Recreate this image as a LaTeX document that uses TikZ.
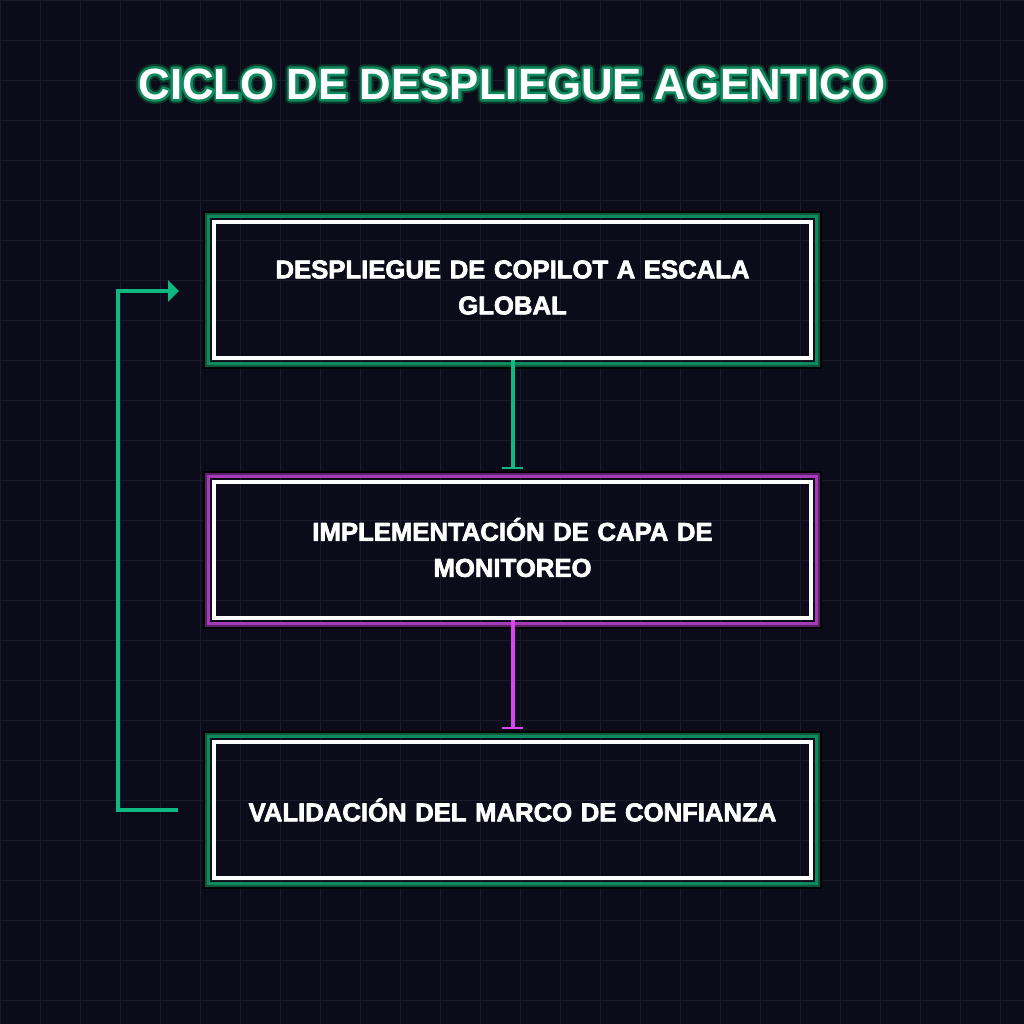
\documentclass[tikz,border=0pt]{standalone}
\usepackage{fontspec}
\setmainfont{Liberation Sans}
\usetikzlibrary{arrows.meta}
\definecolor{bgc}{HTML}{0B0B19}
\definecolor{gridc}{HTML}{1B1B2D}
\definecolor{greenc}{HTML}{10B981}
\definecolor{gband}{HTML}{0F8A5E}
\definecolor{gdark}{HTML}{0A5A3D}
\definecolor{magc}{HTML}{D946EF}
\definecolor{mband}{HTML}{A63BB8}
\definecolor{mdark}{HTML}{5E1F6A}
\definecolor{tgreen}{HTML}{0F8A5E}
\definecolor{tdark}{HTML}{0A3A2A}
\newcommand\glowframe[3]{%
  \draw[black, line width=3pt] ([shift={(-7.5pt,7.5pt)}]#1.north west) rectangle ([shift={(7.5pt,-7.5pt)}]#1.south east);
  \draw[#3, line width=2pt] ([shift={(-6pt,6pt)}]#1.north west) rectangle ([shift={(6pt,-6pt)}]#1.south east);
  \draw[#2, line width=3pt] ([shift={(-3.5pt,3.5pt)}]#1.north west) rectangle ([shift={(3.5pt,-3.5pt)}]#1.south east);
}
\newcommand\strkon[1]{\special{pdf:literal direct 1 Tr #1 w 1 j}}
\newcommand\strkoff{\special{pdf:literal direct 0 Tr 1 w 0 j}}
\newcommand\heavy[1]{\special{pdf:literal direct 2 Tr 0.7 w 1 j}#1\special{pdf:literal direct 0 Tr 1 w 0 j}}
\tikzset{
  boxnode/.style={draw=white, line width=4pt, minimum width=597pt, minimum height=136pt, inner sep=0pt},
  boxtext/.style={inner sep=0pt, text=white, font=\bfseries\fontsize{25.7}{35}\selectfont, align=center, text width=590pt},
  titlefont/.style={font=\bfseries\fontsize{43.8}{50}\selectfont, inner sep=0pt},
  conn/.style={line width=4pt}
}
\begin{document}
\begin{tikzpicture}[x=1pt,y=-1pt]
\fill[bgc] (0,0) rectangle (1024,1024);
\useasboundingbox (0,0) rectangle (1024,1024);
\foreach \i in {0,40,...,1000} {
  \draw[gridc, line width=1pt] (\i+0.5,0) -- (\i+0.5,1024);
  \draw[gridc, line width=1pt] (0,\i+0.5) -- (1024,\i+0.5);
}
% title
\node[titlefont, text=tdark] (tglowA) at (512,84) {\strkon{9}CICLO DE DESPLIEGUE AGENTICO\strkoff};
\node[titlefont, text=tgreen] (tglowB) at (512,84) {\strkon{5}CICLO DE DESPLIEGUE AGENTICO\strkoff};
\node[titlefont, text=white] (title) at (512,84) {CICLO DE DESPLIEGUE AGENTICO};
% boxes
\node[boxnode] (b1) at (512.5,290) {};
\node[boxnode] (b2) at (512.5,550) {};
\node[boxnode] (b3) at (512.5,810) {};
\node[boxtext] (t1) at ([yshift=2.5pt]b1.center) {\heavy{DESPLIEGUE DE COPILOT A ESCALA}\\[1pt]\heavy{GLOBAL}};
\node[boxtext] (t2) at ([yshift=2.5pt]b2.center) {\heavy{IMPLEMENTACIÓN DE CAPA DE}\\[1pt]\heavy{MONITOREO}};
\node[boxtext] (t3) at (b3.center) {\heavy{VALIDACIÓN DEL MARCO DE CONFIANZA}};
\glowframe{b1}{gband}{gdark}
\glowframe{b2}{mband}{mdark}
\glowframe{b3}{gband}{gdark}
% connectors
\draw[conn, greenc, -{Bar[width=21pt,line width=2pt]}, shorten >=11pt] (b1.south) -- (b2.north);
\draw[conn, magc, -{Bar[width=21pt,line width=2pt]}, shorten >=11pt] (b2.south) -- (b3.north);
\coordinate (fbS) at ([xshift=-34pt]b3.west);
\coordinate (fbE) at ([xshift=-33pt,yshift=-1pt]b1.west);
\draw[conn, greenc, -{Triangle[length=11pt,width=21pt]}] (fbS) -- ++(-60pt,0) |- (fbE);
\end{tikzpicture}
\end{document}
